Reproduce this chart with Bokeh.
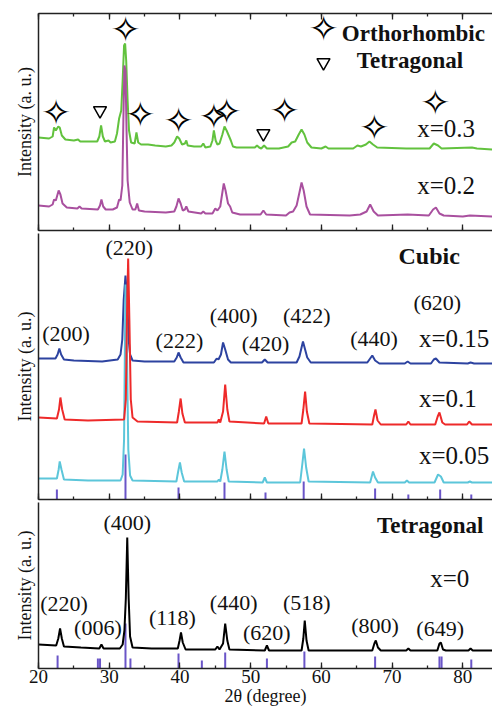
from bokeh.plotting import figure
from bokeh.models import Range1d, SingleIntervalTicker, FixedTicker, LinearAxis, CustomLabelingPolicy
from bokeh.layouts import column
from bokeh.embed import file_html
from bokeh.resources import INLINE
from bokeh.core.properties import value

SERIF = "Liberation Serif"

# ---------------- data (2theta, intensity a.u.) ----------------
x03 = [20, 21.5, 22.0, 22.2, 22.45, 22.8, 23.0, 23.3, 23.8, 25.0, 25.6, 25.9, 27, 28.3, 28.6, 28.85, 29.1, 29.4, 29.9, 30.2,
       30.8, 31.1, 31.4, 31.7, 31.9, 32.1, 32.25, 32.4, 32.6, 32.8, 33.1, 33.6, 33.85, 34.1, 34.5, 35.5, 36.5, 38, 38.8, 39.2,
       39.6, 39.9, 40.3, 40.7, 40.9, 41.1, 42, 43.0, 43.3, 43.6, 44.3, 44.6, 44.8, 45.05, 45.3, 45.6, 46.0, 46.3, 46.6, 46.9,
       47.2, 47.5, 48, 50.6, 50.9, 51.2, 51.5, 51.9, 52.3, 54, 55.3, 55.8, 56.3, 56.8, 57.2, 57.6, 58.0, 58.6, 60, 60.6,
       61, 64.5, 65.1, 65.6, 66.3, 66.8, 67.3, 67.9, 72, 75.3, 75.9, 76.5, 77, 81.3, 82, 84.2]
y03 = [93, 92, 94, 103, 100, 104, 103, 95, 91, 90, 91, 89, 89, 89, 94, 105, 94, 89, 90, 88,
       89, 97, 112, 120, 150, 185, 187, 170, 130, 100, 88, 87, 98, 88, 86, 86, 85, 84, 85, 88,
       94, 92, 86, 87, 90, 85, 84, 84, 87, 83, 84, 90, 100, 90, 86, 87, 96, 104, 100, 95,
       90, 84, 83, 83, 85, 83, 82, 85, 82, 82, 84, 88, 89, 96, 101, 96, 88, 83, 82, 84,
       82, 82, 85, 84, 86, 89, 86, 83, 82, 82, 87, 85, 82, 83, 82, 81]

x02 = [20, 21.5, 22.0, 22.2, 22.45, 22.85, 23.1, 23.4, 24, 25.5, 25.8, 26.1, 28.4, 28.7, 28.9, 29.15, 29.5, 30.5, 31.1, 31.4,
       31.6, 31.85, 32.0, 32.15, 32.3, 32.45, 32.6, 32.9, 33.3, 33.7, 33.95, 34.2, 35, 38, 39.2, 39.5, 39.8, 40.1, 40.4, 40.7,
       40.9, 41.2, 43, 43.3, 43.6, 44.6, 45.0, 45.3, 45.7, 46.0, 46.2, 46.45, 46.8, 47.1, 47.4, 48.5, 51.4, 51.8, 52.2, 55,
       55.5, 56.0, 56.5, 56.9, 57.2, 57.5, 57.9, 58.4, 64, 65.5, 66.4, 66.9, 67.4, 68, 72.2, 75.2, 75.8, 76.2, 76.7, 77.3,
       80, 81, 84.2]
y02 = [25, 24, 26, 31, 30, 40, 36, 27, 23, 22, 24, 22, 21, 25, 31, 24, 21, 21, 23, 31,
       30, 45, 110, 165, 160, 100, 50, 28, 21, 21, 27, 20, 19, 18, 19, 24, 32, 27, 20, 21,
       24, 19, 17, 19, 17, 17, 22, 20, 24, 38, 47, 40, 27, 24, 18, 16, 16, 20, 16, 15,
       18, 19, 25, 38, 48, 40, 24, 16, 15, 16, 19, 26, 19, 15, 16, 15, 21, 23, 17, 15,
       14, 15, 14]

x015 = [20, 22.4, 22.7, 22.95, 23.2, 23.6, 25, 29, 31.2, 31.6, 31.85, 32.05, 32.3, 32.55, 32.75, 32.95, 33.3, 35, 39.2, 39.55,
        39.8, 40.1, 40.5, 44.8, 45.2, 45.45, 45.8, 46.1, 46.4, 46.8, 47.2, 51.6, 52.0, 52.4, 56.5, 56.9, 57.2, 57.4, 57.7, 58.0,
        58.5, 66.5, 66.9, 67.2, 67.6, 68.2, 71.8, 72.2, 72.6, 75.5, 75.9, 76.2, 76.7, 80.7, 81.1, 81.6, 84.2]
y015 = [141, 141, 145, 151, 145, 140, 139, 138, 140, 145, 160, 200, 224, 200, 160, 145, 139, 138, 138, 142,
        147, 142, 137, 137, 141, 140, 145, 157, 150, 140, 137, 137, 140, 137, 137, 143, 152, 158, 150, 142,
        137, 137, 141, 144, 139, 136, 136, 138, 136, 136, 140, 141, 137, 136, 137, 136, 136]

x01 = [20, 22.6, 22.9, 23.1, 23.35, 23.7, 27, 32.1, 32.35, 32.55, 32.68, 32.85, 33.05, 33.3, 34, 39.6, 39.85, 40.1, 40.35, 40.7,
       45.3, 45.5, 45.7, 46.1, 46.4, 46.7, 47, 51.9, 52.2, 52.5, 57.2, 57.45, 57.7, 57.95, 58.3, 67.2, 67.45, 67.65, 67.95, 68.4,
       72, 72.3, 72.6, 76.1, 76.45, 76.7, 77.1, 77.5, 80.6, 80.9, 81.3, 84.2]
y01 = [82, 81, 90, 102, 90, 80, 79, 80, 100, 200, 241, 180, 100, 82, 78, 77, 88, 101, 86, 77,
       77, 80, 77, 88, 115, 90, 78, 76, 83, 76, 76, 90, 108, 88, 76, 75, 84, 90, 79, 75,
       75, 78, 75, 75, 83, 87, 77, 75, 75, 78, 75, 75]

x005 = [20, 22.6, 22.85, 23.0, 23.25, 23.6, 27, 31.6, 31.9, 32.1, 32.3, 32.5, 32.7, 32.95, 33.3, 39.5, 39.75, 40.0, 40.25, 40.6,
        45.3, 45.5, 45.7, 46.0, 46.3, 46.6, 46.9, 51.7, 52.0, 52.3, 57.0, 57.3, 57.55, 57.85, 58.2, 66.9, 67.3, 67.6, 68.0, 71.8,
        72.1, 72.4, 76.0, 76.5, 76.9, 77.3, 80.7, 81.0, 81.3, 84.2]
y005 = [21, 21, 30, 38, 30, 20, 19, 19, 25, 60, 215, 150, 50, 24, 19, 18, 28, 37, 27, 18,
        18, 20, 18, 30, 48, 30, 18, 17, 22, 17, 17, 35, 51, 32, 18, 17, 28, 22, 17, 17,
        19, 17, 17, 25, 23, 17, 17, 18, 17, 17]

x0 = [20, 22.5, 22.8, 23.05, 23.3, 23.6, 26, 28.6, 28.9, 29.2, 31.5, 31.9, 32.15, 32.35, 32.55, 32.75, 32.95, 33.3, 36, 39.7,
      39.95, 40.15, 40.4, 40.8, 45, 45.3, 45.6, 46.1, 46.4, 46.7, 47.0, 52, 52.3, 52.6, 57.2, 57.45, 57.65, 57.9, 58.2, 67.2,
      67.5, 67.7, 68.0, 68.4, 72.0, 72.3, 72.6, 76.4, 76.7, 76.9, 77.2, 77.6, 80.8, 81.1, 81.4, 84.2]
y0 = [24, 23, 30, 40, 30, 22, 21, 20, 24, 20, 20, 24, 38, 70, 131, 70, 32, 21, 20, 20,
      28, 36, 26, 19, 19, 22, 19, 25, 45, 28, 19, 18, 23, 18, 18, 30, 48, 28, 18, 18,
      25, 28, 21, 18, 18, 20, 18, 18, 25, 26, 19, 18, 18, 20, 18, 18]

# reference patterns (stick positions, relative intensities)
cub_pos = [22.6, 32.3, 39.8, 46.3, 52.1, 57.5, 67.6, 72.3, 76.8, 81.2]
cub_int = [10, 45, 12, 17, 7, 18, 11, 5, 10, 5]
tet_pos = [22.7, 28.4, 28.7, 32.3, 33.0, 39.8, 43.1, 46.4, 52.3, 57.6, 67.6, 76.7, 77.0, 81.2]
tet_int = [13, 10, 10, 45, 10, 15, 8, 16, 10, 17, 12, 12, 12, 9]

# phase markers (top panel)
ortho_x = [22.5, 32.3, 34.4, 39.8, 44.8, 46.6, 54.8, 67.5, 76.1]
ortho_y = [118, 201, 116, 110, 114, 119, 120, 103, 128]
tetra_x = [28.7, 51.8]
tetra_y = [120, 97]

# peak labels
mid_lab = ["(200)", "(220)", "(222)", "(400)", "(420)", "(422)", "(440)", "(620)"]
mid_lx = [23.9, 32.84, 39.93, 47.6, 52.1, 57.94, 67.45, 76.4]
mid_ly = [166, 252, 159, 184, 156, 184, 161, 197]
bot_lab = ["(220)", "(006)", "(400)", "(118)", "(440)", "(620)", "(518)", "(800)", "(649)"]
bot_lx = [23.6, 28.4, 32.55, 38.94, 47.6, 52.27, 57.94, 67.6, 76.8]
bot_ly = [65, 41, 146, 51, 66, 36, 66, 43, 40]

XMIN, XMAX = 20, 84.2
AXC = "#222222"
STAR = "\u2727"


def make_panel(frame_h, top, bottom, labels, top_axis=False):
    p = figure(frame_width=454, frame_height=frame_h, x_range=Range1d(XMIN, XMAX), y_range=Range1d(0, frame_h),
               output_backend="svg", toolbar_location=None, min_border_left=38, min_border_right=0,
               min_border_top=top, min_border_bottom=bottom, x_axis_location=None, y_axis_location=None)
    p.outline_line_color = None
    p.xgrid.visible = False
    p.ygrid.visible = False
    p.background_fill_color = "white"
    p.border_fill_color = "white"

    def xaxis(show):
        ax = LinearAxis(ticker=SingleIntervalTicker(interval=10, num_minor_ticks=2))
        ax.major_tick_in = 6
        ax.major_tick_out = 0
        ax.minor_tick_in = 3
        ax.minor_tick_out = 0
        ax.axis_line_color = AXC
        ax.axis_line_width = 1.5
        ax.major_tick_line_color = AXC
        ax.minor_tick_line_color = AXC
        ax.major_tick_line_width = 1.3
        ax.minor_tick_line_width = 1.3
        if show:
            ax.major_label_text_font = SERIF
            ax.major_label_text_font_size = "19px"
            ax.major_label_text_color = "#111111"
            ax.major_label_standoff = 1
        else:
            ax.major_label_policy = CustomLabelingPolicy(code="return []")
            ax.major_label_text_font_size = "0px"
            ax.major_label_standoff = 0
        return ax

    b = xaxis(labels)
    if labels:
        b.axis_label = "2\u03b8 (degree)"
        b.axis_label_text_font = SERIF
        b.axis_label_text_font_style = "normal"
        b.axis_label_text_font_size = "18px"
        b.axis_label_text_color = "#111111"
        b.axis_label_standoff = 0
    p.add_layout(b, "below")
    if top_axis:
        p.add_layout(xaxis(False), "above")

    l = LinearAxis(ticker=FixedTicker(ticks=[]))
    l.axis_line_color = AXC
    l.axis_line_width = 1.5
    l.major_tick_in = 0
    l.major_tick_out = 0
    l.minor_tick_in = 0
    l.minor_tick_out = 0
    l.major_label_standoff = 0
    l.axis_label = "Intensity (a. u.)"
    l.axis_label_text_font = SERIF
    l.axis_label_text_font_style = "normal"
    l.axis_label_text_font_size = "18px"
    l.axis_label_text_color = "#111111"
    l.axis_label_standoff = 4
    p.add_layout(l, "left")
    return p


def txt(p, x, y, t, size, bold=False, align="center"):
    p.text(x=x, y=y, text=t, text_font=value(SERIF), text_font_size=size, text_align=align,
           text_baseline="middle", text_color="#111111", text_font_style="bold" if bold else "normal")


# ---------------- top panel ----------------
p1 = make_panel(217, 13, 3, False, top_axis=True)
p1.line(x03, y03, line_color="#62c23e", line_width=2)
p1.line(x02, y02, line_color="#a9509f", line_width=2)
p1.text(x=ortho_x + [60.3], y=ortho_y + [202], text=[STAR] * (len(ortho_x) + 1), text_font=value("DejaVu Sans"),
        text_font_size="36px", text_align="center", text_baseline="middle", text_color="black")
p1.scatter(x=tetra_x + [60.3], y=tetra_y + [168], marker="inverted_triangle", size=13, fill_color="white",
           line_color="black", line_width=1.5)
txt(p1, [62.9], [197], ["Orthorhombic"], "23px", bold=True, align="left")
txt(p1, [65.0], [170], ["Tetragonal"], "23px", bold=True, align="left")
txt(p1, [73.55], [102], ["x=0.3"], "25px", align="left")
txt(p1, [73.55], [45], ["x=0.2"], "25px", align="left")

# ---------------- middle panel ----------------
p2 = make_panel(266, 0, 3, False)
p2.segment(x0=cub_pos, y0=[0] * len(cub_pos), x1=cub_pos, y1=cub_int, line_color="#6a55c8", line_width=2)
p2.line(x015, y015, line_color="#2d43a0", line_width=2)
p2.line(x005, y005, line_color="#5cc6da", line_width=2)
p2.line(x01, y01, line_color="#ee2a2a", line_width=2)
txt(p2, mid_lx, mid_ly, mid_lab, "22px")
txt(p2, [75.25], [244], ["Cubic"], "24px", bold=True)
txt(p2, [73.8, 73.8, 73.8], [161, 101, 44], ["x=0.15", "x=0.1", "x=0.05"], "25px", align="left")

# ---------------- bottom panel ----------------
p3 = make_panel(166, 0, 42, True)
p3.segment(x0=tet_pos, y0=[0] * len(tet_pos), x1=tet_pos, y1=tet_int, line_color="#6a55c8", line_width=2)
p3.line(x0, y0, line_color="black", line_width=2)
txt(p3, bot_lx, bot_ly, bot_lab, "22px")
txt(p3, [75.4], [143], ["Tetragonal"], "23px", bold=True)
txt(p3, [75.4], [90], ["x=0"], "25px", align="left")

layout = column(p1, p2, p3, spacing=0)
open("out.html", "w").write(file_html(layout, INLINE))
